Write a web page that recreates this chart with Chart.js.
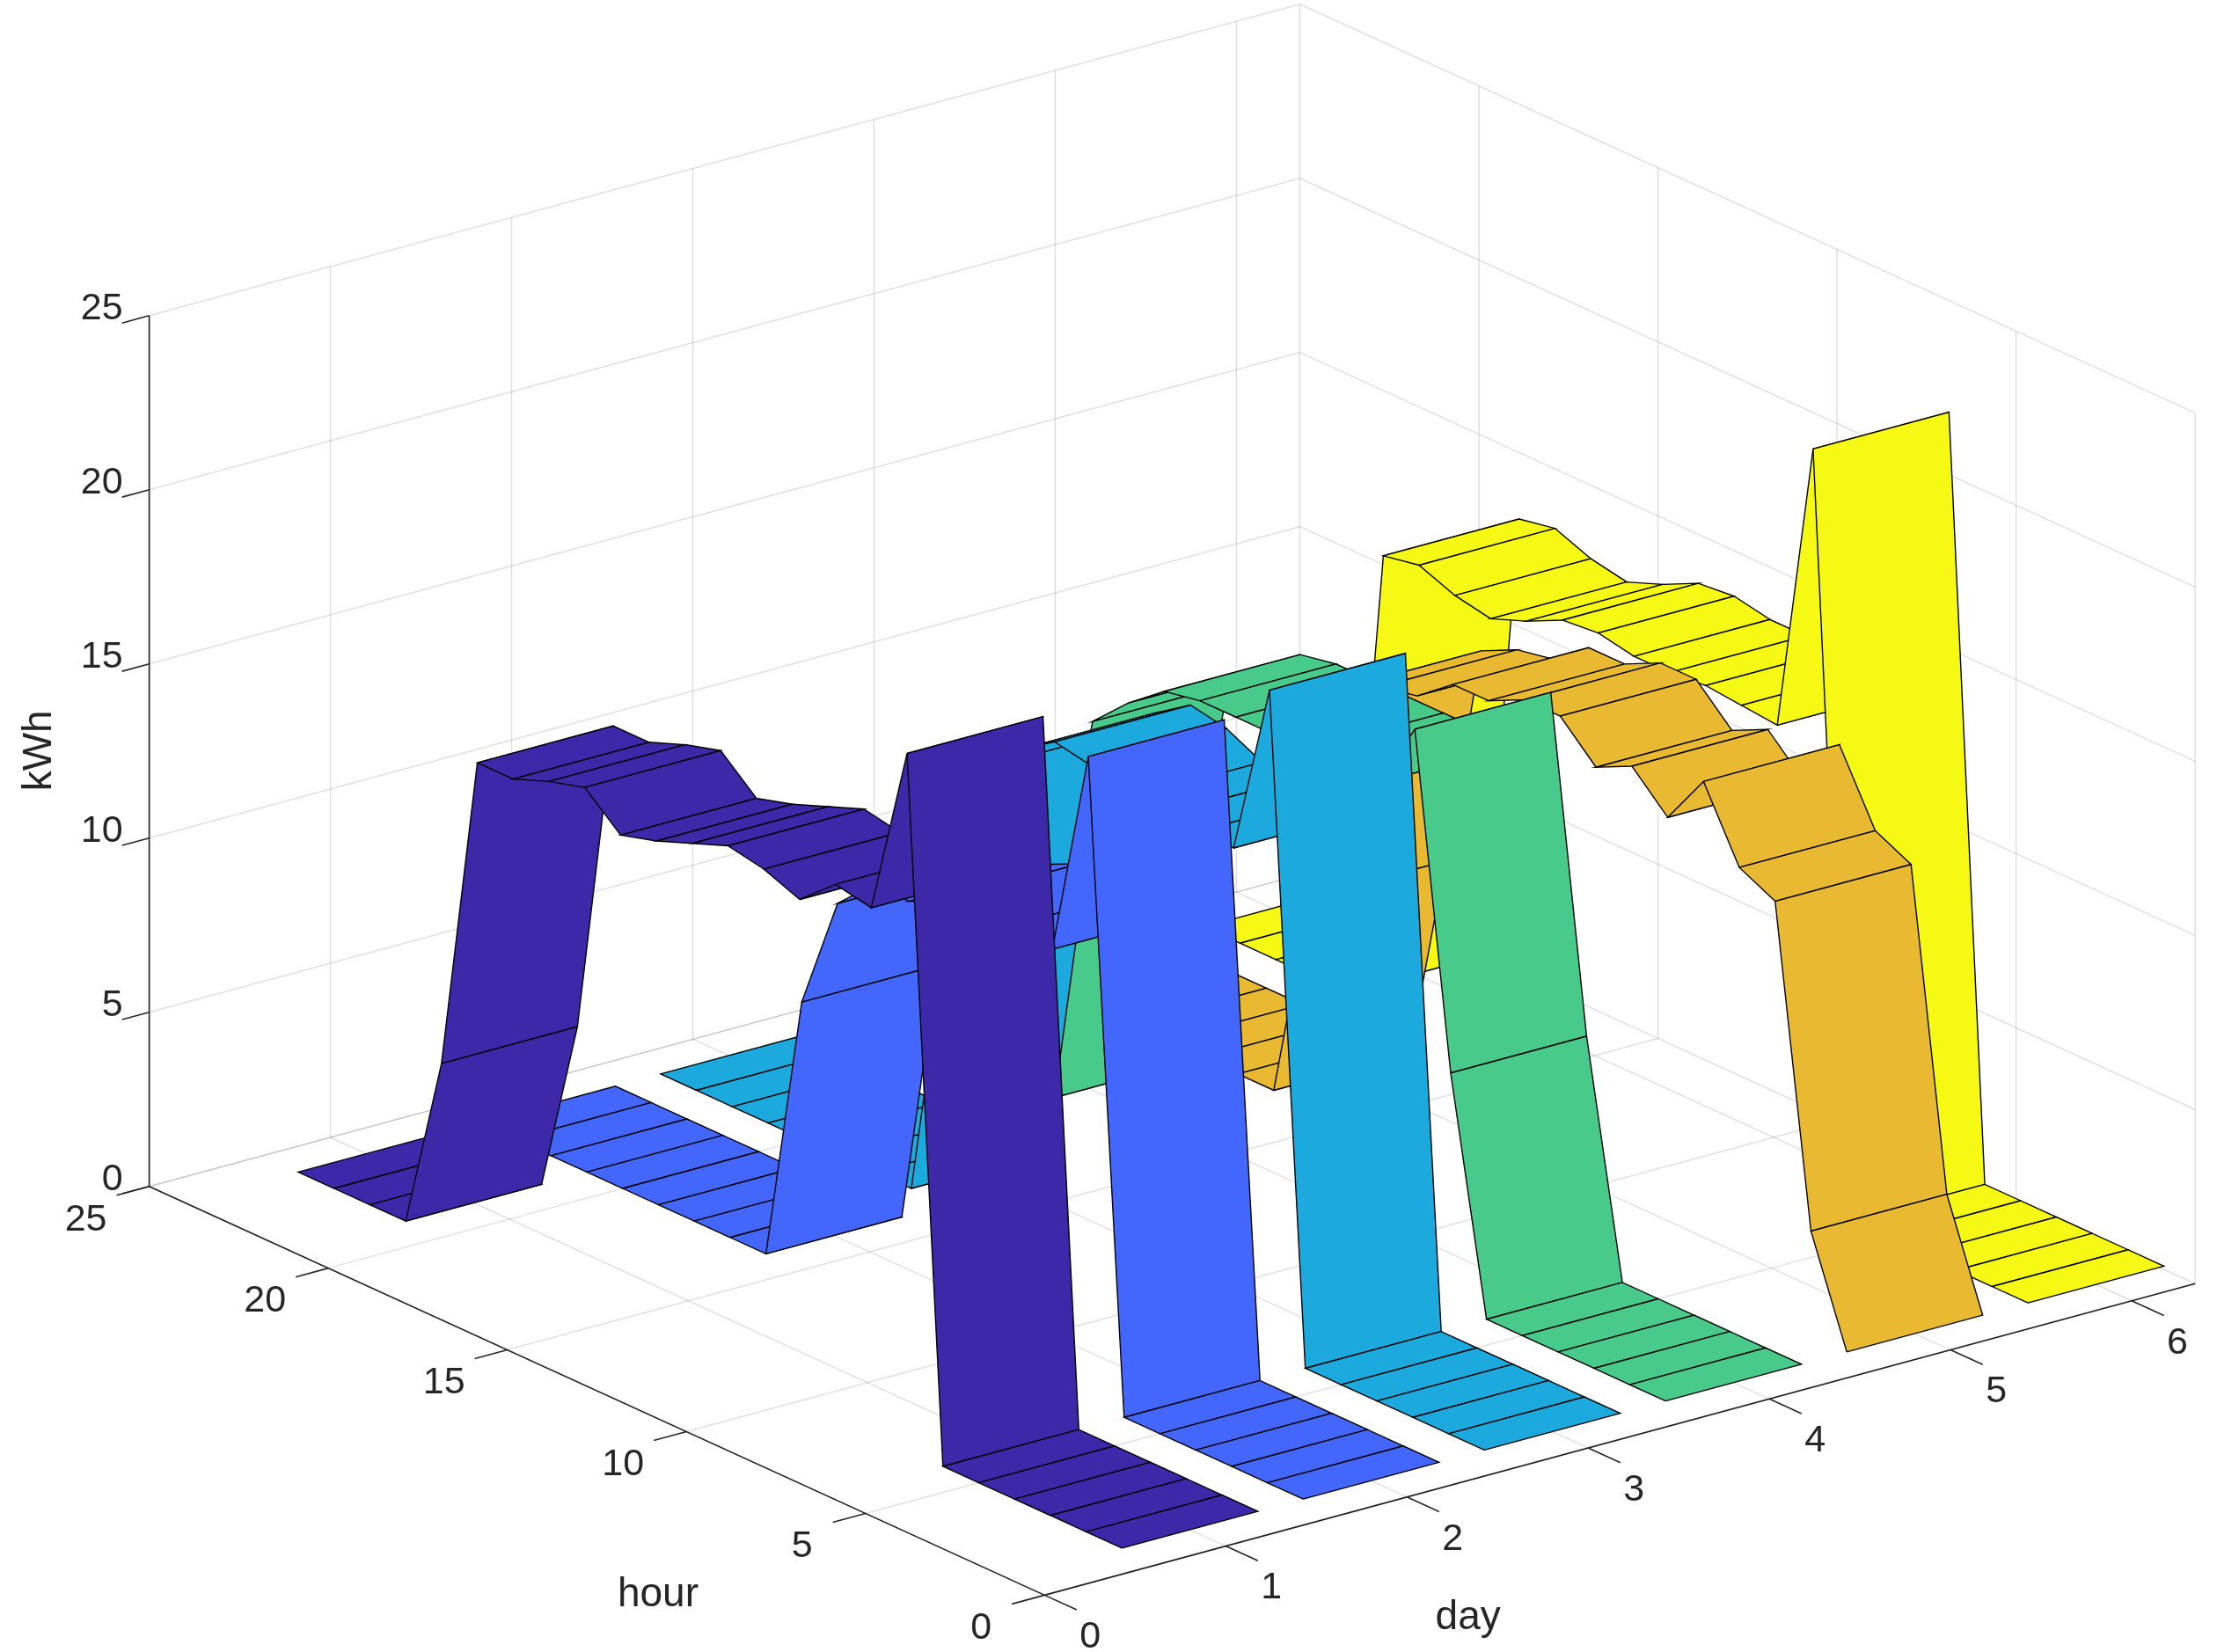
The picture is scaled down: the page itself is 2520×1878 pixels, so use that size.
<!DOCTYPE html>
<html>
<head>
<meta charset="utf-8">
<script src="https://cdn.jsdelivr.net/npm/chart.js@4.4.0/dist/chart.umd.min.js"></script>
<style>
  html, body { margin: 0; padding: 0; background: #fff; }
  #wrap { width: 2520px; height: 1878px; }
</style>
</head>
<body>
<div id="wrap"><canvas id="myChart"></canvas></div>
<script>
// ribbon(kWh) : one ribbon per day, values per hour
const hours = [1,2,3,4,5,6,7,8,9,10,11,12,13,14,15,16,17,18,19,20,21,22,23,24];
const days = [1, 2, 3, 4, 5, 6];
const kwhDay1 = [0,0,0,0,0,0,20,15.1,15.3,14.4,14.8,15,14.6,14.2,13.9,14.8,14.5,14.1,14.1,5,0,0,0,0];
const kwhDay2 = [0,0,0,0,0,0,18.5,12.5,12,12,12.5,12,12,11,7.7,0,0,0,0,0,0,0,0,0];
const kwhDay3 = [0,0,0,0,0,0,19,14,14,14,14,14.5,14.7,14,13,8,0,0,0,0,0,0,0,0];
const kwhDay4 = [0,0,0,0,0,0,6.6,16,14,14,14,14,14,14,13.8,13,12,6,0,0,0,0,0,0];
const kwhDay5 = [0,3,12,12.5,14.5,13,14,13.5,14.5,14.5,14,14,13.2,13,12.5,6,0,0,0,0,0,0,0,0];
const kwhDay6 = [0,0,0,0,0,0,21.7,13.3,13.4,13.5,13.4,13.4,13.6,13.5,13,12.6,12.8,13.2,13,0,0,0,0,0];
const series = [kwhDay1, kwhDay2, kwhDay3, kwhDay4, kwhDay5, kwhDay6];
const colors = ['#3d28a9', '#4367fd', '#1ca9de', '#48cb8a', '#e9b931', '#f6f914'];
const dayTicks = [0,1,2,3,4,5,6];
const hourTicks = [0,5,10,15,20,25];
const kwhTicks = [0,5,10,15,20,25];

const DAY_MAX = 6.35, HOUR_MAX = 25, Z_MAX = 25, HALF = 0.375;

// orthographic view, in 1560x1162 reference units
function P(d, h, z) {
  return { x: 735 + 127.5 * d - 25.2 * h, y: 1122 - 34.5 * d - 11.5 * h - 24.5 * z };
}
const depth = (d, h) => 34.5 * d + 11.5 * h;

const quads = [];
days.forEach((d, i) => {
  const v = series[i];
  for (let k = 0; k < hours.length - 1; k++) {
    const h0 = hours[k], h1 = hours[k + 1];
    quads.push({
      depth: depth(d, (h0 + h1) / 2),
      color: colors[i],
      pts: [P(d - HALF, h0, v[k]), P(d + HALF, h0, v[k]), P(d + HALF, h1, v[k + 1]), P(d - HALF, h1, v[k + 1]), P(d - HALF, h0, v[k])]
    });
  }
});
// nearest first: dataset 0 is drawn last (on top)
quads.sort((a, b) => a.depth - b.depth);

const gridColor = 'rgba(0,0,0,0.12)';
const gridSets = [];
function gline(a, b, color, width) {
  gridSets.push({ type: 'line', data: [a, b], borderColor: color, borderWidth: width, pointRadius: 0, fill: false, tension: 0 });
}
// floor
dayTicks.forEach(d => gline(P(d, 0, 0), P(d, HOUR_MAX, 0), gridColor, 1.5));
hourTicks.forEach(h => gline(P(0, h, 0), P(DAY_MAX, h, 0), gridColor, 1.5));
// back wall hour = max
dayTicks.forEach(d => gline(P(d, HOUR_MAX, 0), P(d, HOUR_MAX, Z_MAX), gridColor, 1.5));
kwhTicks.forEach(z => gline(P(0, HOUR_MAX, z), P(DAY_MAX, HOUR_MAX, z), gridColor, 1.5));
// back wall day = max
hourTicks.forEach(h => gline(P(DAY_MAX, h, 0), P(DAY_MAX, h, Z_MAX), gridColor, 1.5));
kwhTicks.forEach(z => gline(P(DAY_MAX, 0, z), P(DAY_MAX, HOUR_MAX, z), gridColor, 1.5));
// axes
const axisColor = '#262626';
gline(P(0, 0, 0), P(DAY_MAX, 0, 0), axisColor, 1.6);
gline(P(0, 0, 0), P(0, HOUR_MAX, 0), axisColor, 1.6);
gline(P(0, HOUR_MAX, 0), P(0, HOUR_MAX, Z_MAX), axisColor, 1.6);
dayTicks.forEach(d => gline(P(d, 0, 0), P(d, -0.9, 0), axisColor, 1.6));
hourTicks.forEach(h => gline(P(0, h, 0), P(-0.18, h, 0), axisColor, 1.6));
kwhTicks.forEach(z => gline(P(0, HOUR_MAX, z), P(-0.15, HOUR_MAX, z), axisColor, 1.6));

const ribbonSets = quads.map(q => ({
  type: 'line', data: q.pts, backgroundColor: q.color, borderColor: '#000',
  borderWidth: 1.4, pointRadius: 0, fill: 'shape', tension: 0
}));

const labelPlugin = {
  id: 'labels3d',
  afterDraw(chart) {
    const { ctx, scales } = chart;
    const px = p => ({ x: scales.x.getPixelForValue(p.x), y: scales.y.getPixelForValue(p.y) });
    ctx.save();
    ctx.fillStyle = '#262626';
    ctx.font = '43px "Liberation Sans", Arial, sans-serif';
    ctx.textBaseline = 'middle';
    ctx.textAlign = 'center';
    dayTicks.forEach(d => { const p = px(P(d, 0, 0)); ctx.fillText(String(d), p.x + 52, p.y + 48); });
    hourTicks.forEach(h => { const p = px(P(0, h, 0)); ctx.fillText(String(h), p.x - 72, p.y + 38); });
    ctx.textAlign = 'right';
    kwhTicks.forEach(z => { const p = px(P(0, HOUR_MAX, z)); ctx.fillText(String(z), p.x - 30, p.y - 8); });
    ctx.font = '46px "Liberation Sans", Arial, sans-serif';
    ctx.textAlign = 'center';
    let p = px({ x: 463, y: 1122 }); ctx.fillText('hour', p.x, p.y);
    p = px({ x: 1033, y: 1138 }); ctx.fillText('day', p.x, p.y);
    p = px({ x: 28, y: 528 });
    ctx.translate(p.x, p.y); ctx.rotate(-Math.PI / 2); ctx.fillText('kWh', 0, 0);
    ctx.restore();
  }
};

new Chart(document.getElementById('myChart'), {
  type: 'scatter',
  data: { datasets: ribbonSets.concat(gridSets) },
  options: {
    responsive: true, maintainAspectRatio: false, animation: false,
    layout: { padding: 0 },
    plugins: { legend: { display: false }, tooltip: { enabled: false } },
    scales: {
      x: { type: 'linear', min: 0, max: 1560, display: false },
      y: { type: 'linear', min: 0, max: 1162, reverse: true, display: false }
    }
  },
  plugins: [labelPlugin]
});
</script>
</body>
</html>
